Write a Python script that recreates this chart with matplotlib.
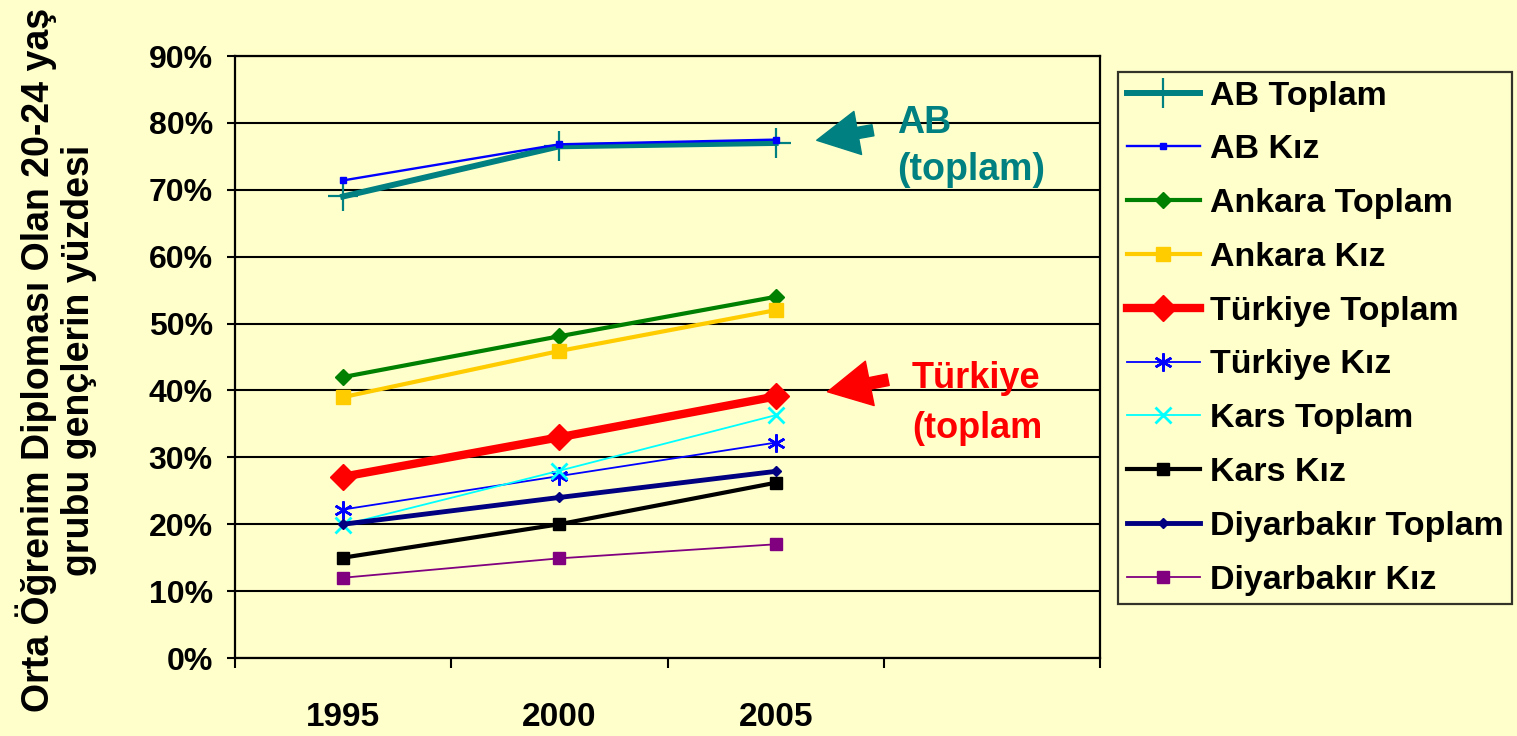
import matplotlib
matplotlib.use("Agg")
import matplotlib.pyplot as plt
from matplotlib import font_manager
from matplotlib.ticker import PercentFormatter, MultipleLocator

years = ["1995", "2000", "2005"]

ab_toplam = [0.69, 0.765, 0.77]
ab_kiz = [0.714, 0.768, 0.775]
ankara_toplam = [0.42, 0.481, 0.54]
ankara_kiz = [0.39, 0.459, 0.52]
turkiye_toplam = [0.271, 0.33, 0.391]
turkiye_kiz = [0.222, 0.272, 0.322]
kars_toplam = [0.199, 0.28, 0.363]
kars_kiz = [0.15, 0.20, 0.262]
diyarbakir_toplam = [0.20, 0.24, 0.279]
diyarbakir_kiz = [0.12, 0.149, 0.17]

BG = "#FFFFCC"
FONT = "Liberation Sans"

# narrow font for the rotated y label if installed
try:
    font_manager.findfont("Liberation Sans Narrow", fallback_to_default=False)
    YFONT, YSIZE = "Liberation Sans Narrow", 32
except Exception:
    YFONT, YSIZE = FONT, 27

plt.rcParams["font.family"] = [FONT, "DejaVu Sans"]
plt.rcParams["font.weight"] = "bold"

fig = plt.figure(figsize=(15.17, 7.36), dpi=100, facecolor=BG)
ax = fig.add_axes([235 / 1517, 78 / 736, 865 / 1517, 602 / 736])
ax.set_facecolor(BG)

x = list(range(len(years)))
series = [
    ("AB Toplam", ab_toplam, dict(color="#008080", lw=4.3, marker="+", ms=21, mew=1.6)),
    ("AB Kız", ab_kiz, dict(color="#0000FF", lw=1.7, marker="s", ms=4.5)),
    ("Ankara Toplam", ankara_toplam, dict(color="#008000", lw=3, marker="D", ms=8)),
    ("Ankara Kız", ankara_kiz, dict(color="#FFCC00", lw=3, marker="s", ms=10.5)),
    ("Türkiye Toplam", turkiye_toplam, dict(color="#FF0000", lw=6, marker="D", ms=13.5)),
    ("Türkiye Kız", turkiye_kiz, dict(color="#0000FF", lw=1.3, marker=(6, 2, 0), ms=13, mew=1.8)),
    ("Kars Toplam", kars_toplam, dict(color="#00FFFF", lw=1.3, marker="x", ms=11, mew=2)),
    ("Kars Kız", kars_kiz, dict(color="#000000", lw=3, marker="s", ms=9)),
    ("Diyarbakır Toplam", diyarbakir_toplam, dict(color="#000080", lw=3.5, marker="D", ms=5.5)),
    ("Diyarbakır Kız", diyarbakir_kiz, dict(color="#800080", lw=1.3, marker="s", ms=9)),
]
for name, vals, style in series:
    ax.plot(x, vals, label=name, zorder=3, **style)

ax.set_xlim(-0.5, 3.5)
ax.set_ylim(0, 0.9)
ax.yaxis.set_major_locator(MultipleLocator(0.1))
ax.yaxis.set_major_formatter(PercentFormatter(1.0, decimals=0))
ax.grid(axis="y", color="black", lw=1.5, zorder=1)
for s in ax.spines.values():
    s.set_linewidth(1.6)
    s.set_color("black")

ax.set_xticks([-0.5, 0.5, 1.5, 2.5, 3.5])
ax.set_xticklabels([])
ax.set_xticks(x, minor=True)
ax.set_xticklabels(years, minor=True, fontsize=24, fontweight="bold")
ax.tick_params(axis="x", which="major", length=7, width=1.5, direction="out")
ax.tick_params(axis="x", which="minor", length=0, pad=32)
ax.tick_params(axis="y", length=6, width=1.5, pad=10, labelsize=23)
for lbl in ax.get_yticklabels():
    lbl.set_fontweight("bold")

fig.text(0.037, 0.511, "Orta Öğrenim Diploması Olan 20-24 yaş\ngrubu gençlerin yüzdesi",
         rotation=90, ha="center", va="center", multialignment="center",
         family=[YFONT, "DejaVu Sans"], fontsize=YSIZE, fontweight="bold",
         linespacing=1.15)

# callouts
ax.annotate("", xy=(2.19, 0.774), xytext=(2.45, 0.789),
            arrowprops=dict(arrowstyle="simple,head_length=1.0,head_width=1.05,tail_width=0.27",
                            mutation_scale=30, color="#008080", shrinkA=0, shrinkB=0))
ax.annotate("", xy=(2.24, 0.398), xytext=(2.52, 0.416),
            arrowprops=dict(arrowstyle="simple,head_length=1.0,head_width=1.05,tail_width=0.27",
                            mutation_scale=31, color="#FF0000", shrinkA=0, shrinkB=0))
ax.text(2.561, 0.785, "AB", color="#008080", fontsize=27, fontweight="bold", va="baseline")
ax.text(2.561, 0.7146, "(toplam)", color="#008080", fontsize=27, fontweight="bold", va="baseline")
ax.text(2.631, 0.4037, "Türkiye", color="#FF0000", fontsize=26, fontweight="bold", va="baseline")
ax.text(2.631, 0.329, "(toplam", color="#FF0000", fontsize=26, fontweight="bold", va="baseline")

leg = fig.legend(loc="upper left", bbox_to_anchor=(1118 / 1517, 1 - 72 / 736),
                 fontsize=24.5, frameon=True, fancybox=False, facecolor=BG,
                 edgecolor="black", numpoints=1, handlelength=2.15, handletextpad=0.3,
                 labelspacing=0.67, borderpad=0.25, borderaxespad=0)
leg.get_frame().set_linewidth(1.6)
for t in leg.get_texts():
    t.set_fontweight("bold")

fig.savefig("out.png", dpi=100, facecolor=BG)
